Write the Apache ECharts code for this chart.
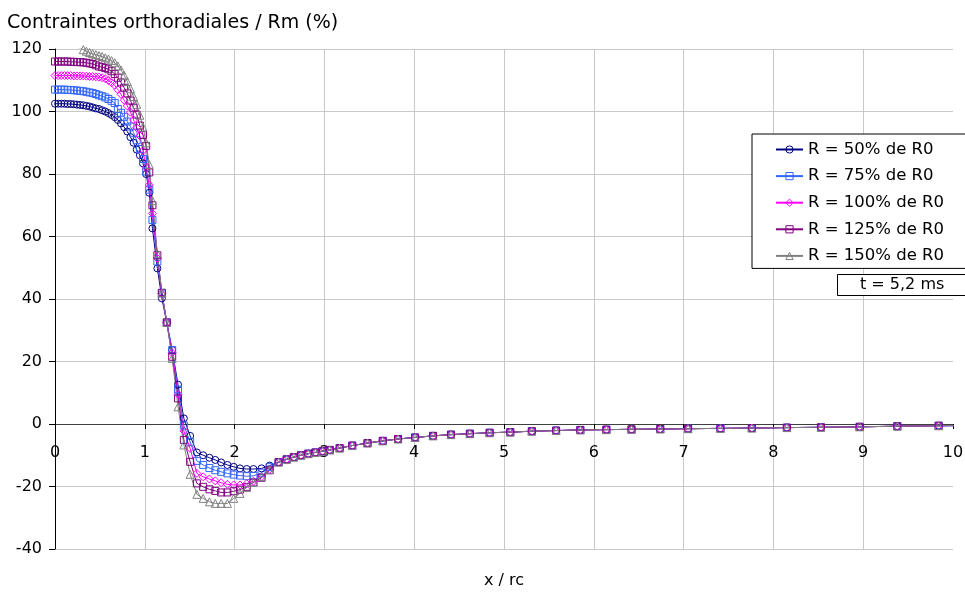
<!DOCTYPE html>
<html>
<head>
<meta charset="utf-8">
<script src="https://cdn.jsdelivr.net/npm/echarts@6/dist/echarts.min.js"></script>
<style>html,body{margin:0;padding:0;background:#fff}#c{width:965px;height:592px}</style>
</head>
<body>
<div id="c"></div>
<script>
// x / rc positions (shared mesh)
const xValues = [0,0.035,0.07,0.105,0.14,0.175,0.21,0.245,0.28,0.315,
 0.35,0.385,0.42,0.455,0.49,0.525,0.56,0.595,0.63,0.665,
 0.70,0.735,0.77,0.805,0.84,0.875,0.91,0.945,0.98,1.015,
 1.05,1.085,1.14,1.19,1.245,1.305,1.37,1.435,1.505,1.58,
 1.65,1.72,1.785,1.85,1.92,1.99,2.06,2.135,2.21,2.30,2.39,
 2.49,2.58,2.66,2.74,2.82,2.90,2.98,3.06,3.17,3.31,
 3.48,3.65,3.82,4.01,4.21,4.41,4.62,4.84,5.07,5.31,
 5.58,5.85,6.14,6.42,6.74,7.05,7.41,7.76,8.15,8.53,
 8.96,9.38,9.84,10.3];

// values up to x = 2.39 for each series
const r50 = [102.5,102.5,102.5,102.5,102.4,102.4,102.3,102.2,102.1,102.0,
 101.8,101.6,101.3,101.0,100.8,100.4,100.0,99.5,98.9,98.2,
 97.3,96.2,95.0,93.6,91.8,90.0,87.8,86.0,83.4,80.0,
 74.0,62.6,49.8,40.2,32.3,23.7,12.6,1.8,-3.8,-9.1,
 -10.0,-10.8,-11.5,-12.3,-13.1,-13.7,-14.2,-14.4,-14.4,-14.2,-13.3];
const r75 = [107.0,107.0,107.0,107.0,106.9,106.9,106.8,106.7,106.6,106.5,
 106.3,106.1,105.9,105.6,105.2,104.9,104.5,104.0,103.4,102.7,
 100.8,99.6,98.3,96.8,95.2,93.2,90.8,88.0,84.8,80.8,
 75.0,65.3,52.0,41.8,32.5,23.7,11.0,-0.5,-5.7,-11.8,
 -13.1,-14.1,-14.8,-15.3,-15.8,-16.2,-16.5,-16.7,-16.6,-15.6,-13.8];
const r100 = [111.5,111.5,111.5,111.5,111.5,111.5,111.4,111.4,111.4,111.4,
 111.3,111.2,111.2,111.1,111.0,110.8,110.5,109.9,109.2,108.4,
 107.0,105.5,103.6,101.8,99.8,97.3,94.8,92.2,87.5,82.0,
 76.5,67.4,53.0,41.8,32.5,22.8,9.5,-2.2,-7.8,-15.8,
 -16.9,-17.6,-18.2,-18.8,-19.3,-19.5,-19.5,-19.1,-18.3,-16.9,-14.5];
const r125 = [116.0,116.0,116.0,116.0,116.0,115.9,115.9,115.8,115.8,115.7,
 115.6,115.4,115.2,114.8,114.4,114.2,113.9,113.5,112.9,112.0,
 110.8,109.3,107.6,105.8,103.5,101.2,99.0,95.5,92.5,89.0,
 80.5,70.0,54.0,42.0,32.5,21.5,8.2,-5.1,-12.1,-19.0,
 -20.1,-20.9,-21.4,-21.9,-21.9,-21.5,-21.0,-20.1,-18.7,-17.2,-14.8];
const r150 = [121.0,121.0,121.0,120.9,120.9,120.8,120.7,120.5,120.3,119.8,
 119.3,118.9,118.5,118.2,117.9,117.6,117.2,116.8,116.3,115.6,
 114.6,113.3,111.6,109.6,107.3,104.8,102.3,98.8,95.0,90.0,
 83.0,71.5,54.5,42.0,32.5,21.0,5.5,-6.7,-16.1,-22.5,
 -23.8,-24.9,-25.4,-25.4,-25.4,-23.8,-22.2,-20.3,-18.6,-16.8,-14.6];
// common tail from x = 2.49 onward
const tail = [-12.2,-11.3,-10.6,-10.0,-9.5,-9.1,-8.7,-8.3,-7.7,-6.9,
 -6.1,-5.4,-4.8,-4.3,-3.8,-3.4,-3.1,-2.8,-2.6,-2.3,
 -2.1,-1.9,-1.8,-1.7,-1.6,-1.5,-1.4,-1.3,-1.15,-1.05,
 -0.9,-0.7,-0.55,-0.45];

const seriesNames = ['R = 50% de R0','R = 75% de R0','R = 100% de R0','R = 125% de R0','R = 150% de R0'];
const seriesHeads = [r50, r75, r100, r125, r150];
const seriesColors = ['#000080','#3366ff','#ff00ff','#800080','#808080'];
const seriesSymbols = ['circle','rect','diamond','rect','triangle'];
const yTicks = {min:-40, max:120, interval:20};
const xTicks = {min:0, max:10, interval:1};

const FONT = 'DejaVu Sans, Liberation Sans, Arial, sans-serif';
const chart = echarts.init(document.getElementById('c'), null, {renderer:'canvas'});

const series = seriesNames.map((name, k) => {
  const ys = seriesHeads[k].concat(tail);
  return {
    name: name,
    type: 'line',
    data: xValues.map((x, i) => [x, ys[i]]),
    symbol: seriesSymbols[k],
    symbolSize: seriesSymbols[k]==='triangle' ? 8 : (seriesSymbols[k]==='diamond' ? 8 : 7),
    showSymbol: true,
    clip: true,
    lineStyle: {color: seriesColors[k], width: 1},
    itemStyle: {color: 'rgba(255,255,255,0)', borderColor: seriesColors[k], borderWidth: 1},
    emphasis: {disabled: true},
    animation: false
  };
});

chart.setOption({
  animation: false,
  title: [
    {text: 'Contraintes orthoradiales / Rm (%)', left: 2, top: 9,
     textStyle: {fontFamily: FONT, fontSize: 19, fontWeight: 'normal', color: '#000'}},
    {text: 't = 5,2 ms', left: 837, top: 274,
     padding: [3, 40, 3, 23], borderWidth: 1, borderColor: '#000', backgroundColor: '#fff',
     textStyle: {fontFamily: FONT, fontSize: 16, fontWeight: 'normal', color: '#000'}}
  ],
  legend: {
    orient: 'vertical', left: 752, top: 134,
    padding: [7, 40, 4, 23],
    itemWidth: 27, itemHeight: 9, itemGap: 9.6,
    borderWidth: 1, borderColor: '#000', backgroundColor: '#fff',
    itemStyle: {color: 'rgba(255,255,255,0)', borderWidth: 1},
    textStyle: {fontFamily: FONT, fontSize: 16.5, color: '#000'},
    data: seriesNames
  },
  grid: {left: 55, right: 12, top: 49, bottom: 43, containLabel: false, outerBoundsMode: 'none'},
  xAxis: {
    type: 'value', min: xTicks.min, max: xTicks.max, interval: xTicks.interval,
    position: 'bottom', offset: -125,
    name: 'x / rc', nameLocation: 'middle', nameGap: 149,
    nameTextStyle: {fontFamily: FONT, fontSize: 16, color: '#000'},
    axisLine: {onZero: false, lineStyle: {color: '#404040', width: 1}},
    axisTick: {show: true, length: 5, inside: false, lineStyle: {color: '#000'}},
    axisLabel: {fontFamily: FONT, fontSize: 16, color: '#000', margin: 21},
    splitLine: {show: true, showMaxLine: false, lineStyle: {color: '#c8c8c8', width: 1}}
  },
  yAxis: {
    type: 'value', min: yTicks.min, max: yTicks.max, interval: yTicks.interval,
    axisLine: {show: true, onZero: false, lineStyle: {color: '#000', width: 1}},
    axisTick: {show: true, length: 6, lineStyle: {color: '#000'}},
    axisLabel: {fontFamily: FONT, fontSize: 16, color: '#000', margin: 13},
    splitLine: {show: true, lineStyle: {color: '#c8c8c8', width: 1}}
  },
  series: series
});
</script>
</body>
</html>
